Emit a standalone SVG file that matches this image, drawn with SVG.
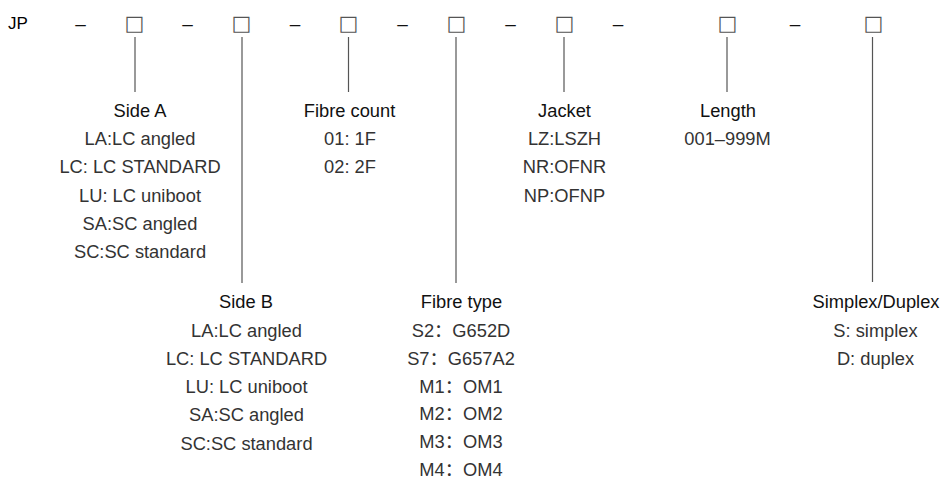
<svg xmlns="http://www.w3.org/2000/svg" width="942" height="480" viewBox="0 0 942 480">
<style>
text{font-family:"Liberation Sans","Noto Sans CJK SC",Arial,sans-serif;text-anchor:middle}
.code{font-size:17px;fill:#000}
.dash{font-size:19px;fill:#111}
.box{font-family:"DejaVu Sans",sans-serif;font-size:21px;fill:#555}
.title{font-size:18.3px;fill:#111}
.item{font-size:18.3px;fill:#333}
.lead{stroke:#555;stroke-width:1.2;fill:none}
</style>
<rect width="942" height="480" fill="#fff"/>
<g id="code">
<text class="code" x="18" y="29">JP</text>
<text class="dash" x="80.5" y="30">–</text>
<text class="dash" x="187.5" y="30">–</text>
<text class="dash" x="295" y="30">–</text>
<text class="dash" x="402.5" y="30">–</text>
<text class="dash" x="510.5" y="30">–</text>
<text class="dash" x="618" y="30">–</text>
<text class="dash" x="795" y="30">–</text>
</g>
<g id="connectors">
<line class="lead" x1="135" y1="37" x2="135" y2="92"/>
<line class="lead" x1="242" y1="37" x2="242" y2="283"/>
<line class="lead" x1="348.5" y1="37" x2="348.5" y2="92"/>
<line class="lead" x1="456" y1="37" x2="456" y2="283"/>
<line class="lead" x1="564" y1="37" x2="564" y2="92"/>
<line class="lead" x1="727" y1="37" x2="727" y2="92"/>
<line class="lead" x1="872.5" y1="37" x2="872.5" y2="282"/>
</g>
<g id="box-sideA"><text class="box" x="134.5" y="30">□</text></g>
<g id="box-sideB"><text class="box" x="241.5" y="30">□</text></g>
<g id="box-count"><text class="box" x="348.5" y="30">□</text></g>
<g id="box-type"><text class="box" x="456.5" y="30">□</text></g>
<g id="box-jacket"><text class="box" x="564.5" y="30">□</text></g>
<g id="box-length"><text class="box" x="727.5" y="30">□</text></g>
<g id="box-duplex"><text class="box" x="873.5" y="30">□</text></g>
<g id="sideA">
<text class="title" x="140" y="117">Side A</text>
<text class="item" x="140" y="145">LA:LC angled</text>
<text class="item" x="140" y="173.3">LC: LC STANDARD</text>
<text class="item" x="140" y="201.7">LU: LC uniboot</text>
<text class="item" x="140" y="230">SA:SC angled</text>
<text class="item" x="140" y="258.3">SC:SC standard</text>
</g>
<g id="fibreCount">
<text class="title" x="349.5" y="117">Fibre count</text>
<text class="item" x="350" y="145">01: 1F</text>
<text class="item" x="350" y="173.3">02: 2F</text>
</g>
<g id="jacket">
<text class="title" x="564.5" y="117">Jacket</text>
<text class="item" x="564.5" y="145">LZ:LSZH</text>
<text class="item" x="564.5" y="173.3">NR:OFNR</text>
<text class="item" x="564.5" y="201.7">NP:OFNP</text>
</g>
<g id="length">
<text class="title" x="728" y="117">Length</text>
<text class="item" x="727.5" y="145">001–999M</text>
</g>
<g id="sideB">
<text class="title" x="246" y="308">Side B</text>
<text class="item" x="246.5" y="336.5">LA:LC angled</text>
<text class="item" x="246.5" y="364.8">LC: LC STANDARD</text>
<text class="item" x="246.5" y="393.1">LU: LC uniboot</text>
<text class="item" x="246.5" y="421.4">SA:SC angled</text>
<text class="item" x="246.5" y="449.7">SC:SC standard</text>
</g>
<g id="fibreType">
<text class="title" x="461.5" y="308">Fibre type</text>
<text class="item" x="461" y="336.5">S2：G652D</text>
<text class="item" x="461" y="364.8">S7：G657A2</text>
<text class="item" x="461" y="392.5">M1：OM1</text>
<text class="item" x="461" y="420.3">M2：OM2</text>
<text class="item" x="461" y="448">M3：OM3</text>
<text class="item" x="461" y="475.5">M4：OM4</text>
</g>
<g id="duplex">
<text class="title" x="876" y="308">Simplex/Duplex</text>
<text class="item" x="875.5" y="336.5">S: simplex</text>
<text class="item" x="875.5" y="364.8">D: duplex</text>
</g>
</svg>
